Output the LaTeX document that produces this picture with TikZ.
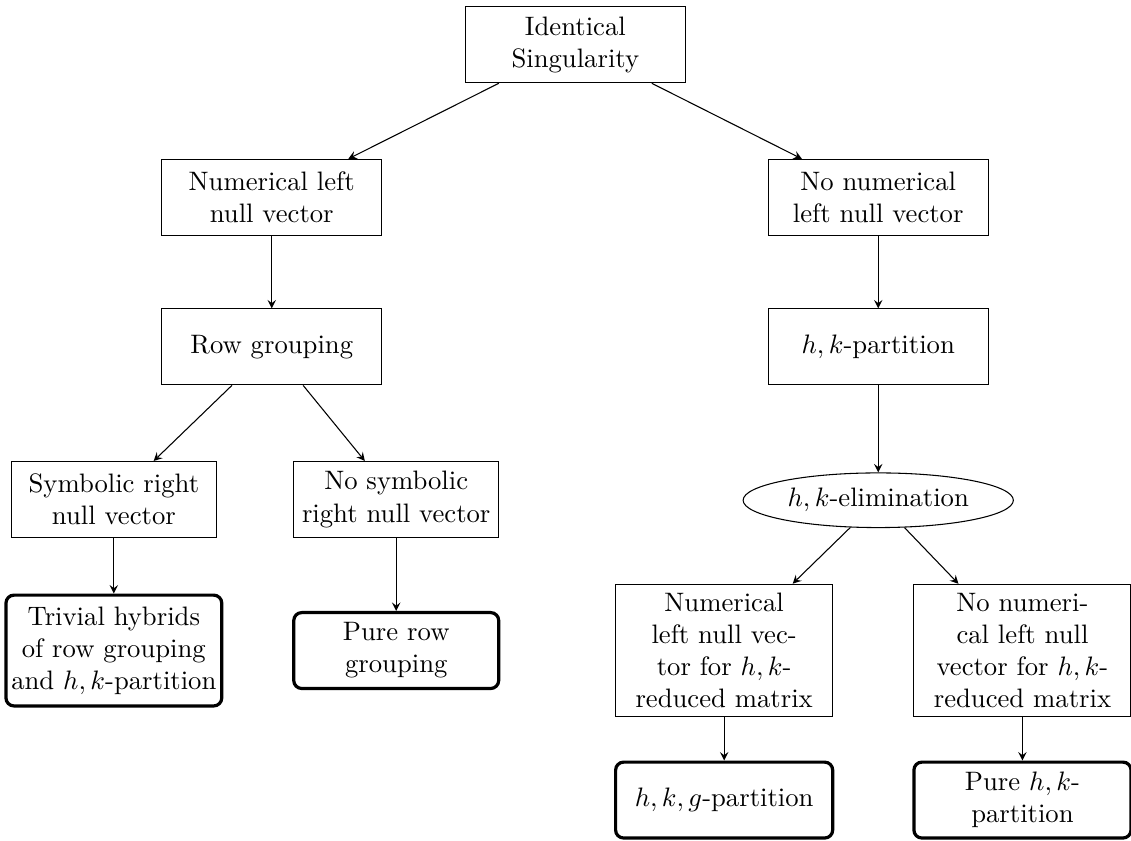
\documentclass[tikz,border=0pt]{standalone}
\usepackage{amsmath}
\usepackage{amssymb}
\usepackage{tikz}
\usetikzlibrary{shapes.geometric}

\tikzset{
  >=stealth,
  box/.style={draw, rectangle, align=center, minimum height=1cm, inner xsep=2pt, minimum width=#1},
  box/.default=2.90cm,
  leaf/.style={box=#1, rounded corners=3pt, very thick},
  leaf/.default=2.70cm,
  oval/.style={draw, ellipse, minimum width=3.56cm, minimum height=0.72cm, inner sep=1pt}
}

\begin{document}
\begin{tikzpicture}
            \useasboundingbox (0,0) rectangle (14.90,-11.07);
            % top
            \node [box] (ident) at (7.58,-0.59) {Identical\\Singularity};
            \node [box] (numleft) at (3.58,-2.60) {Numerical left\\null vector};
            \node [box] (nonumleft) at (11.57,-2.60) {No numerical\\left null vector};
            \node [box] (rowgroup) at (3.58,-4.57) {Row grouping};
            \node [box] (hkpart) at (11.57,-4.57) {$h,k$-partition};
            % left branch
            \node [box=2.70cm] (symright) at (1.50,-6.58) {Symbolic right\\null vector};
            \node [box=2.70cm] (nosymright) at (5.22,-6.58) {No symbolic\\right null vector};
            \node [leaf, inner xsep=2pt, minimum height=1.46cm] (hybrid) at (1.50,-8.57) {Trivial hybrids\\of row grouping\\and $h,k$-partition};
            \node [leaf] (purerow) at (5.22,-8.57) {Pure row\\grouping};
            % right branch
            \node [oval] (hkelim) at (11.57,-6.59) {$h,k$-elimination};
            \node [box=2.86cm] (numhk) at (9.54,-8.57) {Numerical\\left null vec-\\tor for $h,k$-\\reduced matrix};
            \node [box=2.86cm] (nonumhk) at (13.47,-8.57) {No numeri-\\cal left null\\vector for $h,k$-\\reduced matrix};
            \node [leaf=2.86cm] (hkg) at (9.54,-10.54) {$h,k,g$-partition};
            \node [leaf=2.86cm] (purehk) at (13.47,-10.54) {Pure $h,k$-\\partition};
            % arrows
            \draw [->] (ident) -- (numleft);
            \draw [->] (ident) -- (nonumleft);
            \draw [->] (numleft) -- (rowgroup);
            \draw [->] (nonumleft) -- (hkpart);
            \draw [->] (rowgroup) -- (symright);
            \draw [->] (rowgroup) -- (nosymright);
            \draw [->] (symright) -- (hybrid);
            \draw [->] (nosymright) -- (purerow);
            \draw [->] (hkpart) -- (hkelim);
            \draw [->] (hkelim) -- (numhk);
            \draw [->] (hkelim) -- (nonumhk);
            \draw [->] (numhk) -- (hkg);
            \draw [->] (nonumhk) -- (purehk);
        \end{tikzpicture}
\end{document}
